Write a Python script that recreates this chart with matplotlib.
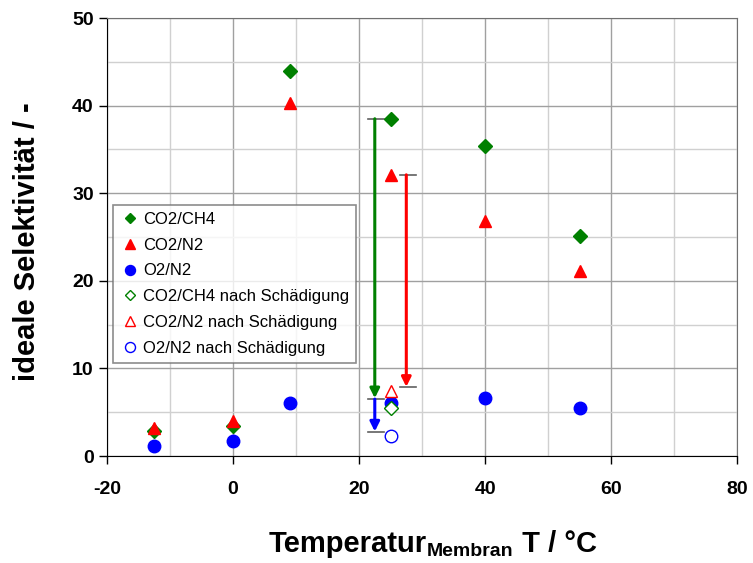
import matplotlib
matplotlib.use("Agg")
import matplotlib.pyplot as plt
from matplotlib.ticker import MultipleLocator

plt.rcParams['font.family'] = ['Liberation Sans', 'DejaVu Sans']
plt.rcParams['axes.unicode_minus'] = False

temps = [-12.5, 0, 9, 25, 40, 55]
co2_ch4 = [2.9, 3.4, 44.0, 38.5, 35.4, 25.1]
co2_n2 = [3.2, 4.0, 40.3, 32.1, 26.8, 21.1]
o2_n2 = [1.1, 1.7, 6.1, 6.0, 6.6, 5.5]

temp_damage = [25]
co2_ch4_damage = [5.5]
co2_n2_damage = [7.4]
o2_n2_damage = [2.3]

# arrows: x position, start, end
arrow_x = [22.5, 27.5, 22.5]
arrow_start = [38.5, 32.1, 6.5]
arrow_end = [6.6, 7.9, 2.8]
arrow_colors = ['#008000', '#FF0000', '#0000FF']
arrow_caps = [(True, False), (True, True), (True, True)]

W, H = 753, 563
fig = plt.figure(figsize=(W / 100, H / 100), dpi=100)
ax = fig.add_axes([0.142, 0.190, 0.837, 0.778])

ax.set_xlim(-20, 80)
ax.set_ylim(0, 50)
ax.xaxis.set_major_locator(MultipleLocator(20))
ax.xaxis.set_minor_locator(MultipleLocator(10))
ax.yaxis.set_major_locator(MultipleLocator(10))
ax.yaxis.set_minor_locator(MultipleLocator(5))
ax.grid(which='major', color='#a0a0a0', linewidth=1.0)
ax.grid(which='minor', color='#d0d0d0', linewidth=1.0)
ax.set_axisbelow(True)
ax.tick_params(which='major', direction='out', length=6, width=1, labelsize=14)
ax.tick_params(which='minor', length=0)
for lab in ax.get_xticklabels() + ax.get_yticklabels():
    lab.set_fontweight('bold')
ax.tick_params(axis='x', pad=12)
for s in ['top', 'right']:
    ax.spines[s].set_color('#707070')

# arrows
for x, y0, y1, c, (cap0, cap1) in zip(arrow_x, arrow_start, arrow_end, arrow_colors, arrow_caps):
    ax.annotate('', xy=(x, y1), xytext=(x, y0),
                arrowprops=dict(arrowstyle='-|>', color=c, lw=2.2, mutation_scale=14,
                                shrinkA=0, shrinkB=0))
    if cap0:
        ax.plot([x - 1.0, x + 1.5], [y0, y0], color='#606060', lw=1.2)
    if cap1:
        ax.plot([x - 1.0, x + 1.5], [y1, y1], color='#606060', lw=1.2)

ax.plot(temps, co2_ch4, linestyle='none', marker='D', color='#008000', markersize=7, label='CO2/CH4', zorder=5)
ax.plot(temps, co2_n2, linestyle='none', marker='^', color='#FF0000', markersize=9, label='CO2/N2', zorder=5)
ax.plot(temps, o2_n2, linestyle='none', marker='o', color='#0000FF', markersize=9, label='O2/N2', zorder=5)
ax.plot(temp_damage, co2_ch4_damage, linestyle='none', marker='D', mfc='white', mec='#008000', markersize=7, label='CO2/CH4 nach Schädigung', zorder=5)
ax.plot(temp_damage, co2_n2_damage, linestyle='none', marker='^', mfc='white', mec='#FF0000', markersize=9, label='CO2/N2 nach Schädigung', zorder=5)
ax.plot(temp_damage, o2_n2_damage, linestyle='none', marker='o', mfc='white', mec='#0000FF', markersize=9, label='O2/N2 nach Schädigung', zorder=5)

leg = ax.legend(loc='upper left', bbox_to_anchor=(0.01, 0.573), fontsize=12, frameon=True,
                fancybox=False, edgecolor='#707070', handletextpad=0.2, handlelength=1.2,
                borderpad=0.4, labelspacing=0.65, markerscale=0.8, borderaxespad=0)
leg.get_frame().set_linewidth(1.2)

# y label
fig.text(27 / W, 1 - 242 / H, 'ideale Selektivität / -', rotation=90, fontsize=21,
         fontweight='bold', ha='center', va='center')

# x label with subscript, built from pieces
fig.canvas.draw()
renderer = fig.canvas.get_renderer()
base_y = 1 - 551.5 / H
sub_y = 1 - 556.5 / H
x_px = 269.0
pieces = [('Temperatur', 21, base_y), ('Membran', 14, sub_y), (' T / °C', 21, base_y)]
for txt, fs, yy in pieces:
    t = fig.text(x_px / W, yy, txt, fontsize=fs, fontweight='bold', ha='left', va='baseline')
    bb = t.get_window_extent(renderer=renderer)
    x_px += bb.width

fig.savefig('out.png', dpi=100)
